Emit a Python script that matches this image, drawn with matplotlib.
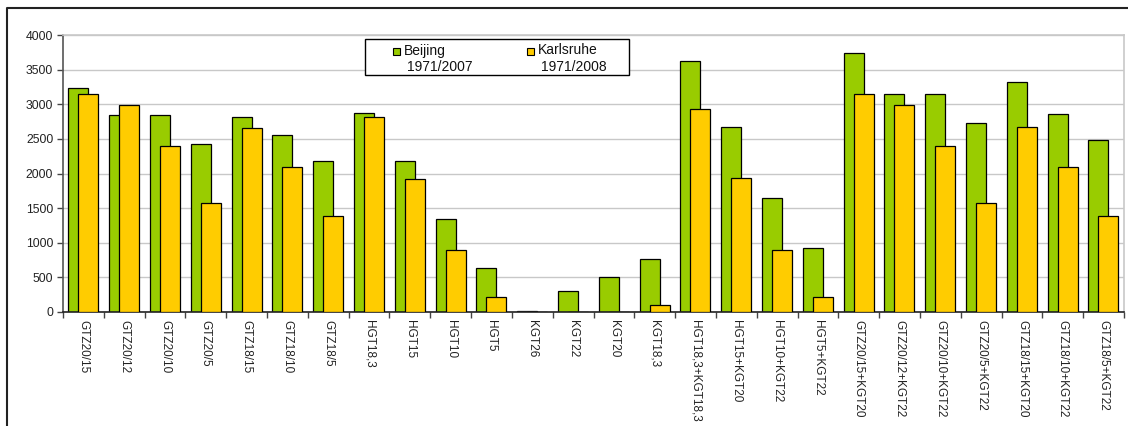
import matplotlib

matplotlib.use("Agg")
import matplotlib.pyplot as plt
import numpy as np
from matplotlib.lines import Line2D
from matplotlib.patches import Rectangle

plt.rcParams["font.family"] = ["Liberation Sans", "DejaVu Sans"]

CATEGORIES = [
    "GTZ20/15", "GTZ20/12", "GTZ20/10", "GTZ20/5", "GTZ18/15", "GTZ18/10", "GTZ18/5",
    "HGT18,3", "HGT15", "HGT10", "HGT5", "KGT26", "KGT22", "KGT20", "KGT18,3",
    "HGT18,3+KGT18,3", "HGT15+KGT20", "HGT10+KGT22", "HGT5+KGT22",
    "GTZ20/15+KGT20", "GTZ20/12+KGT22", "GTZ20/10+KGT22", "GTZ20/5+KGT22",
    "GTZ18/15+KGT20", "GTZ18/10+KGT22", "GTZ18/5+KGT22",
]
BEIJING = [
    3240, 2850, 2850, 2420, 2810, 2550, 2180,
    2870, 2180, 1340, 630, 15, 300, 510, 760,
    3630, 2675, 1640, 925,
    3740, 3150, 3150, 2730,
    3320, 2855, 2480,
]
KARLSRUHE = [
    3150, 2990, 2400, 1570, 2660, 2100, 1390,
    2820, 1925, 900, 210, 0, 0, 0, 100,
    2930, 1940, 900, 210,
    3150, 2990, 2400, 1570,
    2670, 2100, 1390,
]

GREEN = "#99CC00"
YELLOW = "#FFCC00"

W, H = 1128, 426
fig = plt.figure(figsize=(W / 100, H / 100), dpi=100)


def px(x0, y0, x1, y1):
    """Pixel box (top-left origin) -> figure fraction [left, bottom, width, height]."""
    return [x0 / W, 1 - y1 / H, (x1 - x0) / W, (y1 - y0) / H]


ax = fig.add_axes(px(63, 35, 1124, 312))

x = np.arange(len(CATEGORIES))
bw = 0.49
ax.bar(x - 0.125, BEIJING, bw, color=GREEN, edgecolor="black", linewidth=0.9, zorder=2)
ax.bar(x + 0.12, KARLSRUHE, bw, color=YELLOW, edgecolor="black", linewidth=0.9, zorder=3)

ax.set_xlim(-0.5, len(CATEGORIES) - 0.5)
ax.set_ylim(0, 4000)
ax.set_yticks(np.arange(0, 4001, 500))
ax.yaxis.grid(True, color="#c8c8c8", linewidth=1.0, zorder=0)
ax.set_axisbelow(True)

ax.set_xticks(x)
ax.set_xticklabels(CATEGORIES, rotation=270, fontsize=8.5, color="#222222")
ax.tick_params(axis="x", which="major", length=0, pad=6)
ax.set_xticks(np.arange(-0.5, len(CATEGORIES), 1.0), minor=True)
ax.tick_params(axis="x", which="minor", length=4, width=1, color="#444444", direction="out")
ax.tick_params(axis="y", length=4, width=1, color="#444444", labelsize=8.8, labelcolor="#222222", pad=3)

for side in ("top", "right"):
    ax.spines[side].set_color("#c8c8c8")
    ax.spines[side].set_linewidth(1.2)
ax.spines["left"].set_color("#555555")
ax.spines["left"].set_linewidth(1.2)
ax.spines["bottom"].set_color("#222222")
ax.spines["bottom"].set_linewidth(1.2)

# outer chart frame
fig.add_artist(Line2D([7 / W, 7 / W, 1.0], [0.0, 1 - 8 / H, 1 - 8 / H], color="#222222", linewidth=1.5,
                      transform=fig.transFigure))

# legend box with two-line entries
lx0, ly0, lx1, ly1 = 365, 39, 629, 75
fig.add_artist(Rectangle((lx0 / W, 1 - ly1 / H), (lx1 - lx0) / W, (ly1 - ly0) / H, transform=fig.transFigure,
                         facecolor="white", edgecolor="black", linewidth=1.0, zorder=5))
entries = [(393, GREEN, "Beijing", "1971/2007"), (527, YELLOW, "Karlsruhe", "1971/2008")]
for sx, col, name, years in entries:
    fig.add_artist(Rectangle((sx / W, 1 - 55 / H), 7 / W, 7 / H, transform=fig.transFigure,
                             facecolor=col, edgecolor="black", linewidth=0.8, zorder=6))
    fig.text((sx + 11) / W, 1 - 50.5 / H, name, fontsize=10, va="center", ha="left", color="#111111", zorder=7)
    fig.text((sx + 14) / W, 1 - 67 / H, years, fontsize=10, va="center", ha="left", color="#111111", zorder=7)

fig.savefig("out.png", dpi=100)
